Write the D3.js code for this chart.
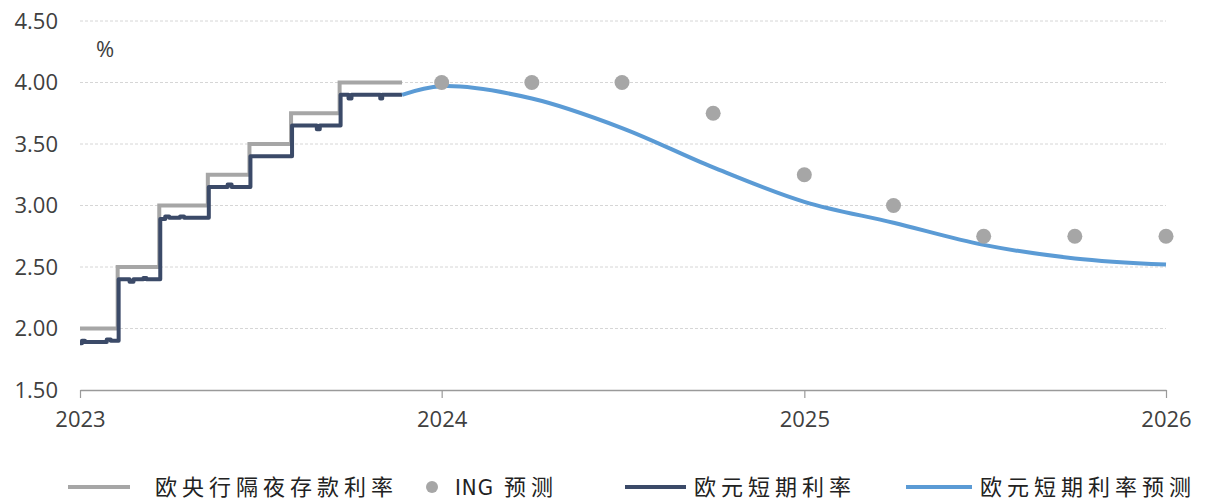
<!DOCTYPE html>
<html>
<head>
<meta charset="utf-8">
<script src="https://cdn.jsdelivr.net/npm/d3@7"></script>
<style>
  html, body { margin: 0; padding: 0; background: #fff; }
  svg { display: block; }
  .tick-lbl { font-family: "Open Sans", "DejaVu Sans", sans-serif; font-size: 22px; fill: #404040; }
  .leg { font-family: "Noto Sans CJK SC", sans-serif; font-size: 22px; fill: #222; letter-spacing: 5px; }
  .leg-latin { font-family: "DejaVu Sans Condensed", "Liberation Sans Narrow", sans-serif; letter-spacing: 1px; }
</style>
</head>
<body>
<svg id="chart" width="1207" height="502"></svg>
<script>
// ECB deposit facility rate (step changes)
const depoDates = ["2023-01-01", "2023-02-08", "2023-03-22", "2023-05-10", "2023-06-21", "2023-08-02", "2023-09-20", "2023-11-22"];
const depoRates = [2.00, 2.50, 3.00, 3.25, 3.50, 3.75, 4.00, 4.00];

// €STR, with the small daily blips
const estrDates = ["2023-01-01", "2023-01-03", "2023-01-06", "2023-01-28", "2023-02-01", "2023-02-09",
  "2023-02-20", "2023-02-24", "2023-03-06", "2023-03-09", "2023-03-23",
  "2023-03-28", "2023-04-01", "2023-04-12", "2023-04-16", "2023-05-11",
  "2023-05-30", "2023-06-03", "2023-06-22", "2023-08-03", "2023-08-28", "2023-08-31",
  "2023-09-21", "2023-09-29", "2023-10-02", "2023-10-31", "2023-11-02", "2023-11-22"];
const estrRates = [1.88, 1.90, 1.89, 1.91, 1.90, 2.40,
  2.38, 2.40, 2.41, 2.40, 2.89,
  2.91, 2.90, 2.91, 2.90, 3.15,
  3.17, 3.15, 3.40, 3.65, 3.62, 3.65,
  3.90, 3.87, 3.90, 3.87, 3.90, 3.90];

// €STR forecast
const fcDates = ["2023-11-22", "2024-01-01", "2024-04-01", "2024-07-01", "2024-10-01", "2025-01-01", "2025-04-01", "2025-07-01", "2025-10-01", "2026-01-01"];
const fcRates = [3.90, 3.97, 3.87, 3.63, 3.31, 3.03, 2.86, 2.68, 2.57, 2.52];

// ING forecast
const ingDates = ["2024-01-01", "2024-04-01", "2024-07-01", "2024-10-01", "2025-01-01", "2025-04-01", "2025-07-01", "2025-10-01", "2026-01-01"];
const ingRates = [4.00, 4.00, 4.00, 3.75, 3.25, 3.00, 2.75, 2.75, 2.75];

const yTicks = [1.5, 2.0, 2.5, 3.0, 3.5, 4.0, 4.5];
const xTickYears = ["2023-01-01", "2024-01-01", "2025-01-01", "2026-01-01"];

const legendLabels = ["欧央行隔夜存款利率", "ING 预测", "欧元短期利率", "欧元短期利率预测"];

const parse = d3.timeParse("%Y-%m-%d");
const svg = d3.select("#chart");

const x = d3.scaleTime()
  .domain([parse("2023-01-01"), parse("2026-01-01")])
  .range([80, 1166]);
const y = d3.scaleLinear().domain([1.5, 4.5]).range([390, 21]);

const zip = (ds, vs) => ds.map((d, i) => ({ date: parse(d), v: vs[i] }));
const depo = zip(depoDates, depoRates);
const estr = zip(estrDates, estrRates);
const fc = zip(fcDates, fcRates);
const ing = zip(ingDates, ingRates);

const C = { depo: "#a6a6a6", estr: "#3b4a68", fc: "#5b9bd5", ing: "#a6a6a6" };

// grid
svg.append("g")
  .selectAll("line")
  .data(yTicks.filter(t => t > 1.5))
  .join("line")
  .attr("x1", 80).attr("x2", 1166)
  .attr("y1", d => y(d)).attr("y2", d => y(d))
  .attr("stroke", "#d6d6d6")
  .attr("stroke-width", 1)
  .attr("stroke-dasharray", "3,2");

// y axis labels
const yAxis = svg.append("g")
  .attr("transform", "translate(80,0)")
  .call(d3.axisLeft(y).tickValues(yTicks).tickFormat(d3.format(".2f")).tickSize(0).tickPadding(22));
yAxis.select(".domain").remove();
yAxis.selectAll("text").attr("class", "tick-lbl").attr("fill", null).attr("font-size", null).attr("font-family", null);

// x axis
const xAxis = svg.append("g")
  .attr("transform", "translate(0," + y(1.5) + ")")
  .call(d3.axisBottom(x).tickValues(xTickYears.map(parse)).tickFormat(d3.timeFormat("%Y")).tickSizeInner(8).tickSizeOuter(0).tickPadding(13));
xAxis.select(".domain").attr("stroke", "#9a9a9a").attr("stroke-width", 1.5);
xAxis.selectAll(".tick line").attr("stroke", "#9a9a9a").attr("stroke-width", 1.2);
xAxis.selectAll("text").attr("class", "tick-lbl").attr("fill", null).attr("font-size", null).attr("font-family", null);

svg.append("text").attr("class", "tick-lbl").attr("x", 96).attr("y", 57).text("%");

// lines
const step = d3.line().x(d => x(d.date)).y(d => y(d.v)).curve(d3.curveStepAfter);
const smooth = d3.line().x(d => x(d.date)).y(d => y(d.v)).curve(d3.curveCatmullRom.alpha(0.5));

svg.append("path").datum(depo).attr("d", step)
  .attr("fill", "none").attr("stroke", C.depo).attr("stroke-width", 4);
svg.append("path").datum(estr).attr("d", step)
  .attr("fill", "none").attr("stroke", C.estr).attr("stroke-width", 4).attr("stroke-linejoin", "round");
svg.append("path").datum(fc).attr("d", smooth)
  .attr("fill", "none").attr("stroke", C.fc).attr("stroke-width", 4);

svg.append("g").selectAll("circle").data(ing).join("circle")
  .attr("cx", d => x(d.date)).attr("cy", d => y(d.v)).attr("r", 7.5)
  .attr("fill", C.ing);

// legend
const ly = 487;
const leg = svg.append("g");
const items = [
  { type: "line", color: C.depo, x0: 68, x1: 130, tx: 155 },
  { type: "dot", color: C.ing, cx: 432, tx: 455 },
  { type: "line", color: C.estr, x0: 625, x1: 686, tx: 694 },
  { type: "line", color: C.fc, x0: 906, x1: 972, tx: 980 }
];
items.forEach((it, i) => {
  if (it.type === "line") {
    leg.append("line").attr("x1", it.x0).attr("x2", it.x1).attr("y1", ly).attr("y2", ly)
      .attr("stroke", it.color).attr("stroke-width", 4);
  } else {
    leg.append("circle").attr("cx", it.cx).attr("cy", ly).attr("r", 6).attr("fill", it.color);
  }
  const t = leg.append("text").attr("class", "leg").attr("x", it.tx).attr("y", ly + 8);
  const label = legendLabels[i];
  const m = label.match(/^([A-Za-z]+)(\s+)(.*)$/);
  if (m) {
    t.append("tspan").attr("class", "leg-latin").text(m[1]);
    t.append("tspan").attr("dx", 10).text(m[3]);
  } else {
    t.text(label);
  }
});
</script>
</body>
</html>
